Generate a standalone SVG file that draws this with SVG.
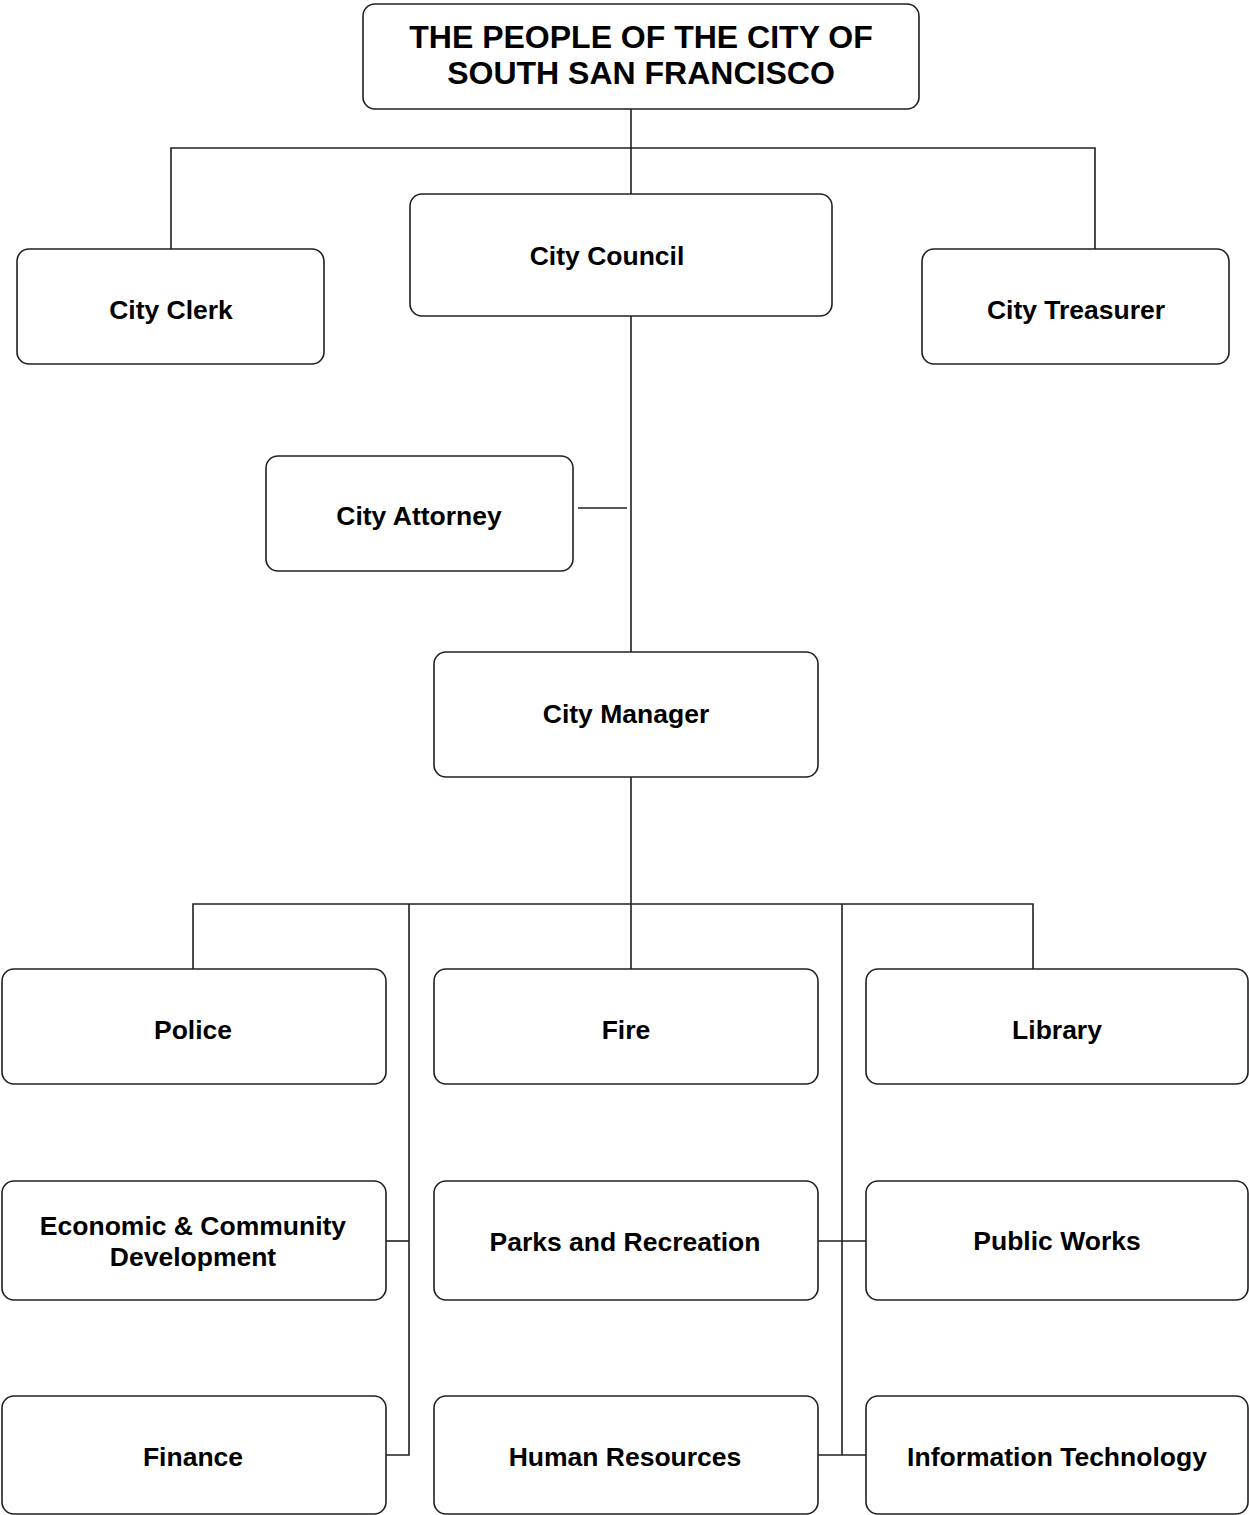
<svg xmlns="http://www.w3.org/2000/svg" width="1249" height="1515" viewBox="0 0 1249 1515">
<style>
.box{fill:#fff;stroke:#231f20;stroke-width:1.6}
.t{font-family:"Liberation Sans",Arial,sans-serif;font-weight:bold;font-size:26.5px;fill:#000;text-anchor:middle}
.title{font-size:32px}
.c{fill:none;stroke:#231f20;stroke-width:1.6}
</style>
<rect width="1249" height="1515" fill="#fff"/>
<g id="connectors">
<path class="c" d="M631,109V194"/>
<path class="c" d="M171,249V148H1095V249"/>
<path class="c" d="M631,316V652"/>
<path class="c" d="M578,508H627"/>
<path class="c" d="M631,777V969"/>
<path class="c" d="M193,969V904H1033V969"/>
<path class="c" d="M409,904V1455H386"/>
<path class="c" d="M386,1241H409"/>
<path class="c" d="M842,904V1455"/>
<path class="c" d="M818,1241H866"/>
<path class="c" d="M818,1455H866"/>
</g>
<g id="people"><rect class="box" x="363" y="4" width="556" height="105" rx="12"/><text class="t title" x="641" y="48">THE PEOPLE OF THE CITY OF</text><text class="t title" x="641" y="84">SOUTH SAN FRANCISCO</text></g>
<g id="council"><rect class="box" x="410" y="194" width="422" height="122" rx="12"/><text class="t" x="607" y="265">City Council</text></g>
<g id="clerk"><rect class="box" x="17" y="249" width="307" height="115" rx="12"/><text class="t" x="171" y="319">City Clerk</text></g>
<g id="treasurer"><rect class="box" x="922" y="249" width="307" height="115" rx="12"/><text class="t" x="1076" y="319">City Treasurer</text></g>
<g id="attorney"><rect class="box" x="266" y="456" width="307" height="115" rx="12"/><text class="t" x="419" y="525">City Attorney</text></g>
<g id="manager"><rect class="box" x="434" y="652" width="384" height="125" rx="12"/><text class="t" x="626" y="723">City Manager</text></g>
<g id="police"><rect class="box" x="2" y="969" width="384" height="115" rx="12"/><text class="t" x="193" y="1039">Police</text></g>
<g id="fire"><rect class="box" x="434" y="969" width="384" height="115" rx="12"/><text class="t" x="626" y="1039">Fire</text></g>
<g id="library"><rect class="box" x="866" y="969" width="382" height="115" rx="12"/><text class="t" x="1057" y="1039">Library</text></g>
<g id="ecd"><rect class="box" x="2" y="1181" width="384" height="119" rx="12"/><text class="t" x="193" y="1235">Economic &amp; Community</text><text class="t" x="193" y="1266">Development</text></g>
<g id="parks"><rect class="box" x="434" y="1181" width="384" height="119" rx="12"/><text class="t" x="625" y="1251">Parks and Recreation</text></g>
<g id="publicworks"><rect class="box" x="866" y="1181" width="382" height="119" rx="12"/><text class="t" x="1057" y="1250">Public Works</text></g>
<g id="finance"><rect class="box" x="2" y="1396" width="384" height="118" rx="12"/><text class="t" x="193" y="1466">Finance</text></g>
<g id="hr"><rect class="box" x="434" y="1396" width="384" height="118" rx="12"/><text class="t" x="625" y="1466">Human Resources</text></g>
<g id="it"><rect class="box" x="866" y="1396" width="382" height="118" rx="12"/><text class="t" x="1057" y="1466">Information Technology</text></g>
</svg>
